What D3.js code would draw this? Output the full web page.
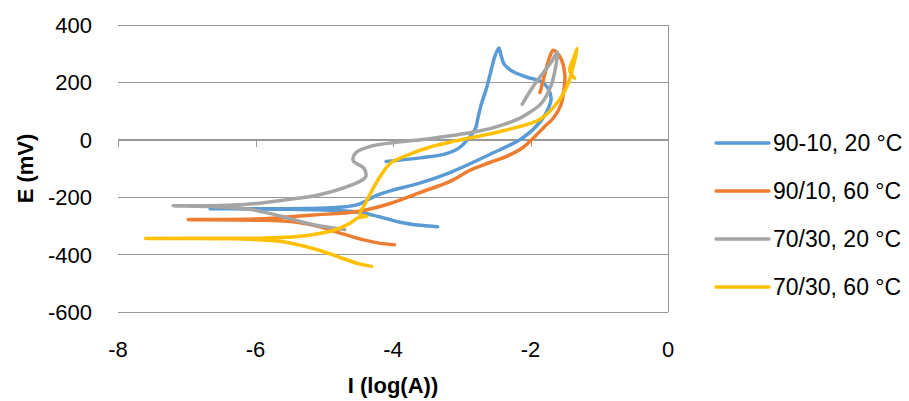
<!DOCTYPE html>
<html>
<head>
<meta charset="utf-8">
<script src="https://cdn.jsdelivr.net/npm/d3@7"></script>
<style>
  html, body { margin: 0; padding: 0; background: #fff; }
  svg { display: block; }
  text { font-family: "Liberation Sans", Arial, sans-serif; fill: #000; }
</style>
</head>
<body>
<svg id="chart" width="909" height="401"></svg>
<script>
// ---- Data ----
const seriesNames = ["90-10, 20 °C", "90/10, 60 °C", "70/30, 20 °C", "70/30, 60 °C"];
const seriesColors = ["#5B9BD5", "#ED7D31", "#A5A5A5", "#FFC000"];

const xTicks = [-8, -6, -4, -2, 0];
const yTicks = [400, 200, 0, -200, -400, -600];

// each: [log(I), E(mV)]
const s9010_20 = [
  [-3.35,-303],[-3.6,-298],[-3.9,-287],[-4.2,-268],[-4.45,-254],[-4.8,-246],[-5.5,-242],[-6.66,-240],
  [-5.8,-240],[-4.9,-237],[-4.52,-226],[-4.23,-193],[-4.04,-178],[-3.6,-150],[-3.17,-114],[-2.6,-52],
  [-2.11,7],[-1.85,65],[-1.74,110],[-1.70,146],[-1.75,181],[-1.85,203],[-2.05,218],[-2.25,237],
  [-2.38,262],[-2.43,296],[-2.46,320],[-2.52,290],[-2.58,235],[-2.64,180],[-2.72,120],[-2.77,70],
  [-2.8,40],[-2.9,5],[-3.05,-30],[-3.25,-50],[-3.6,-63],[-4.1,-76]
];
const s9010_60 = [
  [-3.98,-366],[-4.2,-360],[-4.44,-348],[-4.77,-325],[-5.06,-303],[-5.4,-287],[-6.0,-280],[-6.98,-278],
  [-6.0,-276],[-5.64,-271],[-5.16,-262],[-4.52,-250],[-4.04,-222],[-3.6,-183],[-3.17,-145],[-2.88,-106],
  [-2.6,-80],[-2.34,-57],[-2.1,-25],[-1.95,8],[-1.8,45],[-1.67,75],[-1.56,120],[-1.52,165],[-1.5,226],
  [-1.55,280],[-1.62,305],[-1.67,312],[-1.72,290],[-1.79,230],[-1.86,165]
];
const s7030_20 = [
  [-4.7,-313],[-5.16,-296],[-5.6,-268],[-6.08,-242],[-6.6,-233],[-7.2,-230],
  [-6.5,-229],[-6.08,-224],[-5.5,-207],[-5.1,-193],[-4.63,-160],[-4.4,-130],[-4.42,-100],[-4.58,-72],
  [-4.54,-45],[-4.33,-23],[-4.0,-10],[-3.5,3],[-3.17,14],[-2.84,26],[-2.5,45],[-2.2,70],[-2.05,90],
  [-1.85,125],[-1.7,190],[-1.63,260],[-1.61,306],[-1.7,270],[-1.82,232],[-1.95,190],[-2.12,124]
];
const s7030_60 = [
  [-4.31,-441],[-4.5,-432],[-4.77,-410],[-5.1,-383],[-5.6,-355],[-6.3,-345],[-7.6,-344],
  [-6.3,-343],[-5.84,-342],[-5.35,-336],[-4.87,-316],[-4.62,-290],[-4.5,-270],[-4.38,-267],[-4.48,-260],
  [-4.4,-220],[-4.19,-129],[-4.04,-82],[-3.85,-59],[-3.46,-25],[-3.07,-3],[-2.6,20],[-2.34,35],
  [-1.86,72],[-1.61,129],[-1.45,198],[-1.38,255],[-1.32,318],[-1.38,280],[-1.43,243],[-1.36,215]
];
const allSeries = [s9010_20, s9010_60, s7030_20, s7030_60];

// ---- Layout ----
const svg = d3.select("#chart");
const x = d3.scaleLinear().domain([-8, 0]).range([118, 668]);
const y = d3.scaleLinear().domain([-600, 400]).range([312, 25]);
const gridColor = "#979797";

// gridlines
svg.append("g").selectAll("line").data(yTicks).join("line")
  .attr("x1", x(-8)).attr("x2", x(0))
  .attr("y1", d => y(d)).attr("y2", d => y(d))
  .attr("stroke", gridColor).attr("stroke-width", 1).attr("shape-rendering", "crispEdges");

// right border
svg.append("line")
  .attr("x1", x(0)).attr("x2", x(0)).attr("y1", y(400)).attr("y2", y(-600))
  .attr("stroke", gridColor).attr("stroke-width", 1).attr("shape-rendering", "crispEdges");

// x axis line at E=0 with ticks (labels drawn separately below the plot)
const xAxis = d3.axisBottom(x).tickValues(xTicks).tickSize(7).tickFormat("");
const gx = svg.append("g").attr("transform", `translate(0,${y(0)})`).call(xAxis);
gx.select(".domain").attr("stroke", gridColor).attr("shape-rendering", "crispEdges");
gx.selectAll(".tick line").attr("stroke", gridColor).attr("shape-rendering", "crispEdges");

// x tick labels
svg.append("g").selectAll("text").data(xTicks).join("text")
  .attr("x", d => x(d)).attr("y", 357)
  .attr("text-anchor", "middle").attr("font-size", 22)
  .text(d => d);

// y tick labels
svg.append("g").selectAll("text").data(yTicks).join("text")
  .attr("x", 92).attr("y", d => y(d) + 8)
  .attr("text-anchor", "end").attr("font-size", 22)
  .text(d => d);

// axis titles
svg.append("text")
  .attr("x", (x(-8) + x(0)) / 2).attr("y", 393)
  .attr("text-anchor", "middle").attr("font-size", 22).attr("font-weight", "bold")
  .text("I (log(A))");
svg.append("text")
  .attr("transform", `translate(33,${(y(400) + y(-600)) / 2}) rotate(-90)`)
  .attr("text-anchor", "middle").attr("font-size", 22).attr("font-weight", "bold")
  .text("E (mV)");

// series lines
const line = d3.line()
  .x(d => x(d[0])).y(d => y(d[1]))
  .curve(d3.curveCatmullRom.alpha(0.5));
svg.append("g").selectAll("path").data(allSeries).join("path")
  .attr("d", line)
  .attr("fill", "none")
  .attr("stroke", (d, i) => seriesColors[i])
  .attr("stroke-width", 3.5)
  .attr("stroke-linecap", "round")
  .attr("stroke-linejoin", "round");

// legend
const lg = svg.append("g").selectAll("g").data(seriesNames).join("g")
  .attr("transform", (d, i) => `translate(0,${143 + i * 48})`);
lg.append("line")
  .attr("x1", 716).attr("x2", 769).attr("y1", 0).attr("y2", 0)
  .attr("stroke", (d, i) => seriesColors[i]).attr("stroke-width", 3.5).attr("stroke-linecap", "round");
lg.append("text")
  .attr("x", 773).attr("y", 8).attr("font-size", 23)
  .text(d => d);
</script>
</body>
</html>
